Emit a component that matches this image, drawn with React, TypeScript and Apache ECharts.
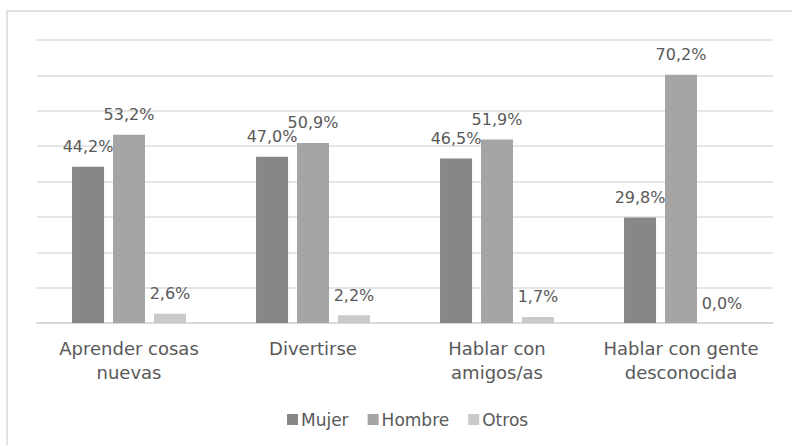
import React, { useEffect, useRef } from "react";
import * as echarts from "echarts";

const categories = [
  "Aprender cosas\nnuevas",
  "Divertirse",
  "Hablar con\namigos/as",
  "Hablar con gente\ndesconocida",
];
const seriesNames = ["Mujer", "Hombre", "Otros"];
const mujer = [44.2, 47.0, 46.5, 29.8];
const hombre = [53.2, 50.9, 51.9, 70.2];
const otros = [2.6, 2.2, 1.7, 0.0];
const colors = ["#878787", "#a5a5a5", "#cacaca"];

const FONT = "DejaVu Sans";
const TEXT = "#595959";

export default function App() {
  const ref = useRef<HTMLDivElement>(null);
  useEffect(() => {
    if (!ref.current) return;
    const chart = echarts.init(ref.current, undefined, { renderer: "svg" });
    const values = [mujer, hombre, otros];
    chart.setOption({
      animation: false,
      backgroundColor: "#ffffff",
      textStyle: { fontFamily: FONT, color: TEXT },
      graphic: [
        {
          type: "rect",
          shape: { x: 7, y: 11, width: 800, height: 450 },
          style: { fill: "none", stroke: "#d9d9d9", lineWidth: 1.5 },
          silent: true,
        },
      ],
      grid: { left: 37, right: 19, top: 40, bottom: 122, containLabel: false },
      legend: {
        data: seriesNames,
        left: 282,
        top: 406,
        itemWidth: 11,
        itemHeight: 11,
        itemGap: 19,
        icon: "rect",
        textStyle: { fontFamily: FONT, fontSize: 17, color: TEXT, padding: [0, 0, 0, -2] },
      },
      xAxis: {
        type: "category",
        data: categories,
        axisLine: { lineStyle: { color: "#d9d9d9", width: 2 } },
        axisTick: { show: false },
        axisLabel: {
          fontFamily: FONT,
          fontSize: 18,
          color: TEXT,
          lineHeight: 24,
          margin: 13,
          interval: 0,
        },
      },
      yAxis: {
        type: "value",
        min: 0,
        max: 80,
        interval: 10,
        axisLabel: { show: false },
        axisLine: { show: false },
        axisTick: { show: false },
        splitLine: { lineStyle: { color: "#dcdcdc", width: 1.5 } },
      },
      series: seriesNames.map((name, i) => ({
        name,
        type: "bar",
        data: values[i],
        barWidth: 32,
        barGap: "28%",
        itemStyle: { color: colors[i] },
        label: {
          show: true,
          position: "top",
          distance: 12,
          fontFamily: FONT,
          fontSize: 16,
          color: TEXT,
          formatter: (p: any) => p.value.toFixed(1).replace(".", ",") + "%",
        },
      })),
    });
    return () => chart.dispose();
  }, []);
  return (
    <div
      ref={ref}
      style={{ position: "fixed", left: 0, top: 0, width: 792, height: 445 }}
    />
  );
}
